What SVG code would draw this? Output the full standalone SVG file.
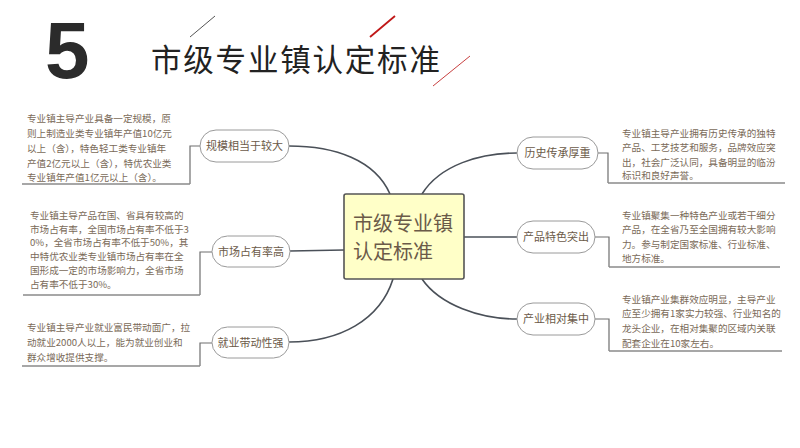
<svg xmlns="http://www.w3.org/2000/svg" width="800" height="448" viewBox="0 0 800 448">
<style>
.cjk{font-family:"Noto Sans CJK SC","Noto Sans",sans-serif;}
.desc{font-family:"Noto Sans CJK SC","Noto Sans",sans-serif;font-size:9.6px;fill:#7a6a58;}
.pill{fill:#fff;stroke:#9a9a9a;stroke-width:1;}
.ptxt{font-family:"Noto Sans CJK SC","Noto Sans",sans-serif;font-size:11px;fill:#6b5a48;text-anchor:middle;}
.conn{fill:none;stroke:#4a5058;stroke-width:1.6;}
.brk{fill:none;stroke:#6e6e6e;stroke-width:1.2;}
.ul{fill:none;stroke:#8a8a8a;stroke-width:1.6;}
</style>
<rect width="800" height="448" fill="#fff"/>
<g id="title">
<text x="45" y="78" font-family="Liberation Sans,Arial,sans-serif" font-weight="bold" font-size="80" fill="#2b2b2b">5</text>
<text x="151" y="71" class="cjk" font-size="30.5" letter-spacing="1.8" fill="#222">市级专业镇认定标准</text>
<line x1="190" y1="37" x2="215" y2="16" stroke="#555" stroke-width="1"/>
<line x1="370" y1="37" x2="395" y2="16" stroke="#c01818" stroke-width="1.8"/>
<line x1="433" y1="86" x2="470" y2="56" stroke="#c84040" stroke-width="1"/>
</g>
<g id="connectors">
<path class="conn" d="M390,194 C375,160 335,146 289,146"/>
<path class="conn" d="M344,250 L290,251"/>
<path class="conn" d="M393,279 C380,320 340,342 289,342"/>
<path class="conn" d="M422,194 C440,165 480,153 517,153"/>
<path class="conn" d="M464,237 L517,237"/>
<path class="conn" d="M422,279 C440,305 480,319 517,319"/>
<path class="brk" d="M200,146 H190 V184"/><path class="ul" d="M22,184 H190"/>
<path class="brk" d="M212,252 H200 V295"/><path class="ul" d="M23,295 H200"/>
<path class="brk" d="M212,343 H200 V366"/><path class="ul" d="M22,366 H200"/>
<path class="brk" d="M598,153 H608 V183"/><path class="ul" d="M608,183 H785"/>
<path class="brk" d="M595,237 H609 V267"/><path class="ul" d="M609,267 H780"/>
<path class="brk" d="M595,319 H609 V351"/><path class="ul" d="M609,351 H782"/>
</g>
<g id="center">
<rect x="344" y="194" width="120" height="85" rx="2" fill="#ffffc8" stroke="#555" stroke-width="1.6"/>
<text x="353" y="231" class="cjk" font-size="20" fill="#6b5a48">市级专业镇</text>
<text x="353" y="259" class="cjk" font-size="20" fill="#6b5a48">认定标准</text>
</g>
<g id="n-scale">
<rect class="pill" x="200" y="130" width="89" height="32" rx="16"/>
<text class="ptxt" x="244.5" y="150">规模相当于较大</text>
<text class="desc"><tspan x="27" y="122">专业镇主导产业具备一定规模，原</tspan><tspan x="27" y="137">则上制造业类专业镇年产值10亿元</tspan><tspan x="27" y="152">以上（含），特色轻工类专业镇年</tspan><tspan x="27" y="167">产值2亿元以上（含），特优农业类</tspan><tspan x="27" y="181">专业镇年产值1亿元以上（含）。</tspan></text>
</g>
<g id="n-market">
<rect class="pill" x="212" y="236" width="78" height="31" rx="15.5"/>
<text class="ptxt" x="251" y="255.5">市场占有率高</text>
<text class="desc"><tspan x="30" y="219">专业镇主导产品在国、省具有较高的</tspan><tspan x="30" y="232.5">市场占有率，全国市场占有率不低于3</tspan><tspan x="30" y="246">0%，全省市场占有率不低于50%，其</tspan><tspan x="30" y="260">中特优农业类专业镇市场占有率在全</tspan><tspan x="30" y="274">国形成一定的市场影响力，全省市场</tspan><tspan x="30" y="287.5">占有率不低于30%。</tspan></text>
</g>
<g id="n-employ">
<rect class="pill" x="212" y="327" width="77" height="31" rx="15.5"/>
<text class="ptxt" x="250.5" y="346.5">就业带动性强</text>
<text class="desc"><tspan x="27" y="331">专业镇主导产业就业富民带动面广，拉</tspan><tspan x="27" y="346">动就业2000人以上，能为就业创业和</tspan><tspan x="27" y="361">群众增收提供支撑。</tspan></text>
</g>
<g id="n-history">
<rect class="pill" x="517" y="137" width="81" height="32" rx="16"/>
<text class="ptxt" x="557.5" y="157">历史传承厚重</text>
<text class="desc"><tspan x="622" y="137">专业镇主导产业拥有历史传承的独特</tspan><tspan x="622" y="151">产品、工艺技艺和服务，品牌效应突</tspan><tspan x="622" y="166">出，社会广泛认同，具备明显的临汾</tspan><tspan x="622" y="179">标识和良好声誉。</tspan></text>
</g>
<g id="n-product">
<rect class="pill" x="517" y="221" width="78" height="32" rx="16"/>
<text class="ptxt" x="556" y="241">产品特色突出</text>
<text class="desc"><tspan x="622" y="219">专业镇聚集一种特色产业或若干细分</tspan><tspan x="622" y="233">产品，在全省乃至全国拥有较大影响</tspan><tspan x="622" y="248">力。参与制定国家标准、行业标准、</tspan><tspan x="622" y="262">地方标准。</tspan></text>
</g>
<g id="n-cluster">
<rect class="pill" x="517" y="303" width="78" height="32" rx="16"/>
<text class="ptxt" x="556" y="323">产业相对集中</text>
<text class="desc"><tspan x="622" y="303">专业镇产业集群效应明显，主导产业</tspan><tspan x="622" y="317">应至少拥有1家实力较强、行业知名的</tspan><tspan x="622" y="332">龙头企业，在相对集聚的区域内关联</tspan><tspan x="622" y="347">配套企业在10家左右。</tspan></text>
</g>
</svg>
